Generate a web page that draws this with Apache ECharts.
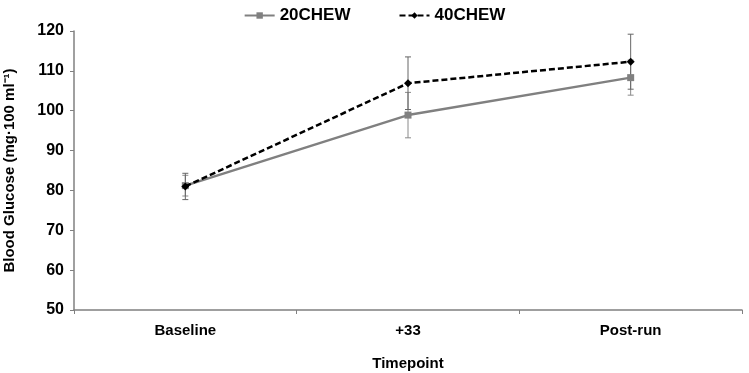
<!DOCTYPE html>
<html>
<head>
<meta charset="utf-8">
<script src="https://cdn.jsdelivr.net/npm/echarts@6/dist/echarts.min.js"></script>
<style>
  html, body { margin: 0; padding: 0; background: #fff; }
  #chart { width: 749px; height: 373px; }
</style>
</head>
<body>
<div id="chart"></div>
<script>
// data
var timepoints = ['Baseline', '+33', 'Post-run'];
var chew20 = [81.2, 98.9, 108.3];
var chew20Err = [2.6, 5.7, 4.4];
var chew40 = [81.0, 106.9, 112.3];
var chew40Err = [3.3, 6.6, 6.9];
var yTicks = [50, 60, 70, 80, 90, 100, 110, 120];

var font = 'Liberation Sans, Arial, sans-serif';

function errData(vals, errs) {
    return vals.map(function (v, i) { return [i, v - errs[i], v + errs[i]]; });
}

function errBar(color) {
    return function (params, api) {
        var lo = api.coord([api.value(0), api.value(1)]);
        var hi = api.coord([api.value(0), api.value(2)]);
        var w = 3;
        var style = { stroke: color, lineWidth: 1 };
        return {
            type: 'group',
            children: [
                { type: 'line', shape: { x1: lo[0], y1: lo[1], x2: hi[0], y2: hi[1] }, style: style },
                { type: 'line', shape: { x1: lo[0] - w, y1: lo[1], x2: lo[0] + w, y2: lo[1] }, style: style },
                { type: 'line', shape: { x1: hi[0] - w, y1: hi[1], x2: hi[0] + w, y2: hi[1] }, style: style }
            ]
        };
    };
}

var chart = echarts.init(document.getElementById('chart'));
chart.setOption({
    animation: false,
    textStyle: { fontFamily: font },
    legend: {
        top: 2,
        left: 'center',
        itemGap: 48,
        itemWidth: 30,
        itemHeight: 8,
        textStyle: { fontFamily: font, fontWeight: 'bold', fontSize: 17, color: '#000' },
        data: ['20CHEW', '40CHEW']
    },
    grid: { left: 74, right: 7, top: 31, bottom: 63, containLabel: false, outerBoundsMode: 'none' },
    xAxis: {
        type: 'category',
        data: timepoints,
        boundaryGap: true,
        name: 'Timepoint',
        nameLocation: 'middle',
        nameGap: 46,
        nameTextStyle: { fontFamily: font, fontWeight: 'bold', fontSize: 15, color: '#000' },
        axisLine: { lineStyle: { color: '#808080', width: 1.5 } },
        axisTick: { show: true, length: 4, lineStyle: { color: '#808080' } },
        axisLabel: { fontFamily: font, fontWeight: 'bold', fontSize: 15, color: '#000', margin: 13 }
    },
    yAxis: {
        type: 'value',
        min: yTicks[0],
        max: yTicks[yTicks.length - 1],
        interval: 10,
        name: 'Blood Glucose (mg\u00b7100 ml\u207b\u00b9)',
        nameLocation: 'middle',
        nameRotate: 90,
        nameGap: 57,
        nameTextStyle: { fontFamily: font, fontWeight: 'bold', fontSize: 15, color: '#000' },
        axisLine: { show: true, lineStyle: { color: '#808080', width: 1.5 } },
        axisTick: { show: true, length: 4, lineStyle: { color: '#808080' } },
        splitLine: { show: false },
        axisLabel: { fontFamily: font, fontWeight: 'bold', fontSize: 16, color: '#000', margin: 10 }
    },
    series: [
        {
            type: 'custom',
            renderItem: errBar('#8a8a8a'),
            data: errData(chew20, chew20Err),
            encode: { x: 0, y: [1, 2] },
            z: 1,
            silent: true
        },
        {
            type: 'custom',
            renderItem: errBar('#666'),
            data: errData(chew40, chew40Err),
            encode: { x: 0, y: [1, 2] },
            z: 1,
            silent: true
        },
        {
            name: '20CHEW',
            type: 'line',
            data: chew20,
            symbol: 'rect',
            symbolSize: 7,
            itemStyle: { color: '#808080' },
            lineStyle: { color: '#808080', width: 2.5 },
            z: 3
        },
        {
            name: '40CHEW',
            type: 'line',
            data: chew40,
            symbol: 'diamond',
            symbolSize: 8,
            itemStyle: { color: '#000' },
            lineStyle: { color: '#000', width: 2.5, type: [6, 3] },
            z: 4
        }
    ]
});
</script>
</body>
</html>
